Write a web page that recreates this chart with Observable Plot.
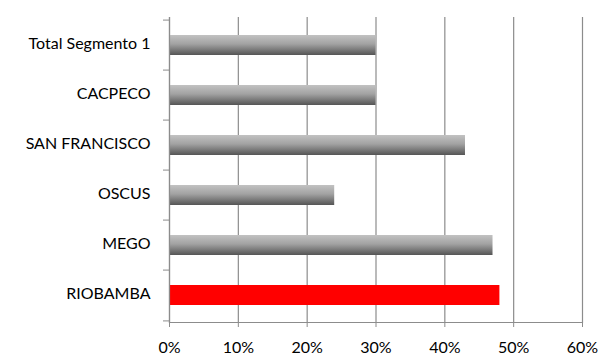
<!DOCTYPE html>
<html>
<head>
<meta charset="utf-8">
<script src="https://cdn.jsdelivr.net/npm/d3@7"></script>
<script src="https://cdn.jsdelivr.net/npm/@observablehq/plot@0.6"></script>
<style>
  html, body { margin: 0; padding: 0; background: #fff; }
  #chart { width: 600px; height: 358px; }
</style>
</head>
<body>
<div id="chart"></div>
<script>
const categories = ["Total Segmento 1", "CACPECO", "SAN FRANCISCO", "OSCUS", "MEGO", "RIOBAMBA"];
const values = [0.30, 0.30, 0.43, 0.24, 0.47, 0.48];
const highlight = ["RIOBAMBA"];
const xTicks = [0, 0.1, 0.2, 0.3, 0.4, 0.5, 0.6];
const xTickLabels = ["0%", "10%", "20%", "30%", "40%", "50%", "60%"];

const data = categories.map((c, i) => ({cat: c, v: values[i], hi: highlight.includes(c)}));

const W = 600, H = 358, mT = 17, mB = 36, mL = 169, mR = 18;
const step = (H - mT - mB) / categories.length;
const grey = "#8c8c8c";
const fmt = d => xTickLabels[xTicks.findIndex(t => Math.abs(t - d) < 1e-9)];

const chart = Plot.plot({
  width: W, height: H,
  marginTop: mT, marginBottom: mB, marginLeft: mL, marginRight: mR,
  style: {fontFamily: "Lato, 'Liberation Sans', Arial, sans-serif", fontSize: "16px", color: "#000", background: "#fff"},
  x: {domain: [0, 0.6], ticks: xTicks, tickFormat: fmt},
  y: {domain: categories, paddingInner: 0.6, paddingOuter: 0.3},
  marks: [
    Plot.gridX(xTicks, {stroke: grey, strokeOpacity: 1, strokeWidth: 1.2}),
    Plot.barX(data, {y: "cat", x: "v", fill: d => d.hi ? "#ff0000" : "url(#barGrad)"}),
    Plot.frame({anchor: "bottom", stroke: grey, strokeWidth: 1.2}),
    Plot.frame({anchor: "left", stroke: grey, strokeWidth: 1.2}),
    Plot.axisX({ticks: xTicks, tickFormat: fmt, tickSize: 5, tickPadding: 14, stroke: grey, label: null, fontSize: 16}),
    Plot.axisY({tickSize: 0, tickPadding: 19, label: null, fontSize: 16, dy: -2}),
    Plot.axisY({tickSize: 6, fill: "none", stroke: grey, dy: -step / 2, label: null}),
    Plot.axisY({ticks: [categories[categories.length - 1]], tickSize: 6, fill: "none", stroke: grey, dy: step / 2, label: null})
  ]
});

// gradient definition for the shaded grey bars
const svg = d3.select(chart);
const defs = svg.insert("defs", ":first-child");
const g = defs.append("linearGradient").attr("id", "barGrad").attr("x1", 0).attr("y1", 0).attr("x2", 0).attr("y2", 1);
g.append("stop").attr("offset", "0%").attr("stop-color", "#c2c2c2");
g.append("stop").attr("offset", "45%").attr("stop-color", "#a2a2a2");
g.append("stop").attr("offset", "100%").attr("stop-color", "#555555");

document.getElementById("chart").appendChild(chart);
</script>
</body>
</html>
